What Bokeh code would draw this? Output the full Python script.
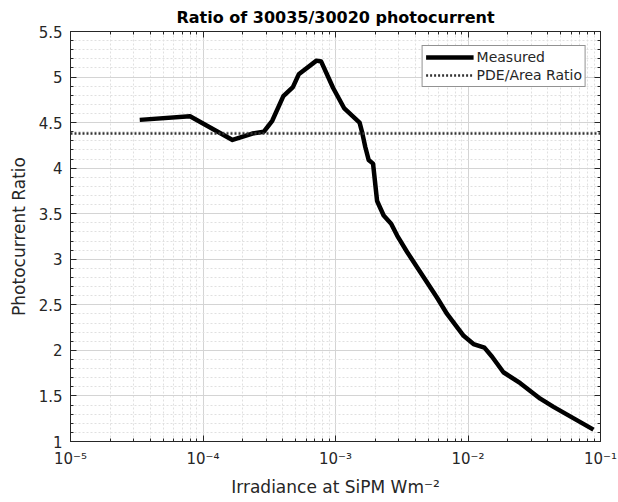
from bokeh.plotting import figure
from bokeh.models import FixedTicker, LogAxis, LinearAxis, Legend, LegendItem, ColumnDataSource
from bokeh.embed import file_html
from bokeh.resources import INLINE

irradiance = [3.33e-5, 7.98e-5, 1.67e-4, 2.36e-4, 2.88e-4, 3.33e-4, 4.04e-4, 4.77e-4,
              5.28e-4, 7.19e-4, 7.8e-4, 9.6e-4, 1.16e-3, 1.52e-3, 1.59e-3, 1.68e-3,
              1.78e-3, 1.92e-3, 2.06e-3, 2.31e-3, 2.63e-3, 2.92e-3, 3.47e-3, 5.83e-3,
              6.95e-3, 9.27e-3, 1.10e-2, 1.33e-2, 1.52e-2, 1.85e-2, 2.48e-2, 3.51e-2,
              4.42e-2, 8.85e-2]
ratio = [4.53, 4.57, 4.31, 4.38, 4.40, 4.52, 4.79, 4.89,
         5.03, 5.18, 5.17, 4.88, 4.66, 4.50, 4.39, 4.23,
         4.09, 4.05, 3.64, 3.48, 3.39, 3.26, 3.08, 2.58,
         2.40, 2.16, 2.07, 2.03, 1.93, 1.76, 1.64, 1.47,
         1.38, 1.13]
pde_area_ratio = 4.38

x_major = [1e-5, 1e-4, 1e-3, 1e-2, 1e-1]
x_labels = ["10⁻⁵", "10⁻⁴", "10⁻³", "10⁻²", "10⁻¹"]
x_minor = [m * d for d in [1e-5, 1e-4, 1e-3, 1e-2] for m in range(2, 10)]
y_major = [1, 1.5, 2, 2.5, 3, 3.5, 4, 4.5, 5, 5.5]
y_labels = ["1", "1.5", "2", "2.5", "3", "3.5", "4", "4.5", "5", "5.5"]
y_minor = [round(1 + 0.1 * i, 2) for i in range(46)]

FONT = "DejaVu Sans"
TXT = "#262626"

p = figure(width=618, height=502, x_axis_type="log", x_range=(1e-5, 1e-1), y_range=(1, 5.5),
           output_backend="svg", toolbar_location=None,
           min_border_left=70, min_border_right=18, min_border_top=31, min_border_bottom=61,
           x_axis_label="Irradiance at SiPM Wm⁻²", y_axis_label="Photocurrent Ratio")
p.background_fill_color = "white"
p.border_fill_color = "white"
p.outline_line_color = "#262626"
p.outline_line_width = 1

p.title.text = "Ratio of 30035/30020 photocurrent"
p.title.align = "center"
p.title.text_font = FONT
p.title.text_font_size = "16px"
p.title.text_font_style = "bold"
p.title.text_color = "black"

xt = FixedTicker(ticks=x_major, minor_ticks=x_minor)
yt = FixedTicker(ticks=y_major, minor_ticks=y_minor)

for ax in p.xaxis + p.yaxis:
    ax.major_tick_in = 6
    ax.major_tick_out = 0
    ax.minor_tick_in = 3
    ax.minor_tick_out = 0
    ax.major_label_text_font = FONT
    ax.major_label_text_font_size = "15px"
    ax.major_label_text_color = TXT
    ax.axis_label_text_font = FONT
    ax.axis_label_text_font_size = "17px"
    ax.axis_label_text_font_style = "normal"
    ax.axis_label_text_color = TXT
    ax.axis_line_color = TXT
    ax.major_tick_line_color = TXT
    ax.minor_tick_line_color = TXT

p.xaxis.ticker = xt
p.yaxis.ticker = yt
p.xaxis.major_label_overrides = dict(zip(x_major, x_labels))
p.yaxis.major_label_overrides = dict(zip(y_major, y_labels))
p.xaxis.major_label_standoff = 8
p.xaxis.axis_label_standoff = 6
p.yaxis.major_label_standoff = 8
p.yaxis.axis_label_standoff = 7

top = LogAxis(ticker=xt, major_label_text_font_size="0px", major_tick_in=6, major_tick_out=0,
              minor_tick_in=3, minor_tick_out=0, axis_line_color=TXT,
              major_tick_line_color=TXT, minor_tick_line_color=TXT)
top.major_label_text_alpha = 0
p.add_layout(top, "above")
right = LinearAxis(ticker=yt, major_label_text_font_size="0px", major_tick_in=6, major_tick_out=0,
                   minor_tick_in=3, minor_tick_out=0, axis_line_color=TXT,
                   major_tick_line_color=TXT, minor_tick_line_color=TXT)
right.major_label_text_alpha = 0
p.add_layout(right, "right")

for g in p.xgrid + p.ygrid:
    g.grid_line_color = "#d4d4d4"
    g.grid_line_width = 1
    g.minor_grid_line_color = "#e0e0e0"
    g.minor_grid_line_dash = "2 2"
    g.minor_grid_line_width = 1
p.xgrid.ticker = xt
p.ygrid.ticker = yt

src = ColumnDataSource(dict(x=irradiance, y=ratio))
r1 = p.line("x", "y", source=src, line_color="black", line_width=4.5, line_join="round")
src2 = ColumnDataSource(dict(x=[1e-5, 1e-1], y=[pde_area_ratio, pde_area_ratio]))
r2 = p.line("x", "y", source=src2, line_color="#333333", line_width=2.5, line_dash="2 2")

legend = Legend(items=[LegendItem(label="Measured", renderers=[r1]),
                       LegendItem(label="PDE/Area Ratio", renderers=[r2])],
                location="top_right", margin=14, padding=3, spacing=2,
                glyph_width=48, glyph_height=16, label_height=16, label_standoff=3,
                label_text_font=FONT, label_text_font_size="14px", label_text_color=TXT,
                border_line_color=TXT, border_line_width=1, background_fill_alpha=1)
p.add_layout(legend, "center")

open("out.html", "w").write(file_html(p, INLINE))
